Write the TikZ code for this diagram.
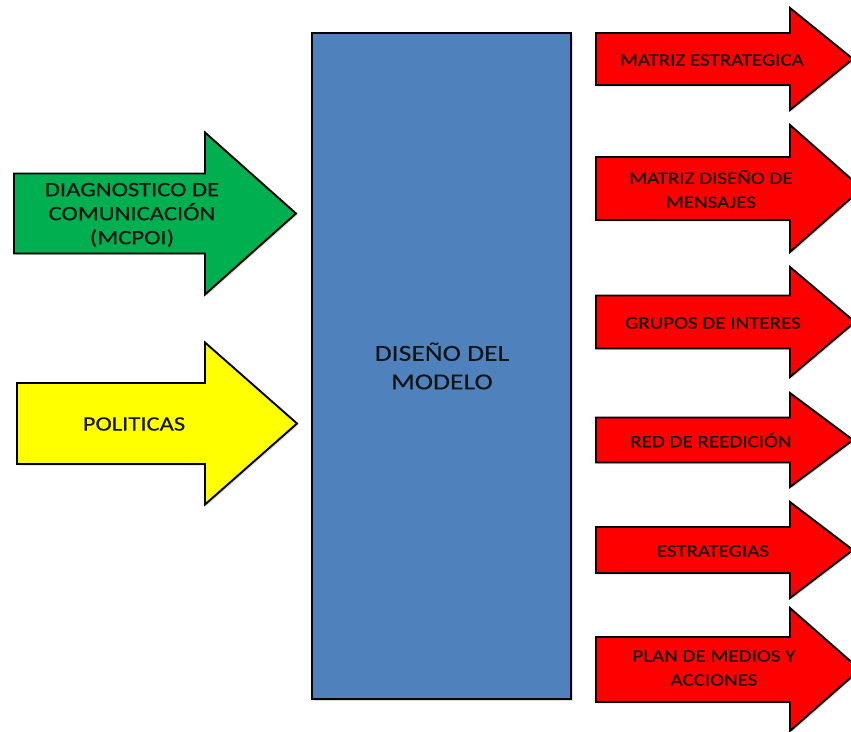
\documentclass[tikz,border=0pt]{standalone}
\usepackage{fontspec}
\setmainfont{Carlito}[FakeStretch=1.2, FakeBold=0.25]
\usetikzlibrary{shadows}
\definecolor{boxblue}{HTML}{4F81BD}
\definecolor{arrgreen}{HTML}{00B050}
\definecolor{arryellow}{HTML}{FFFF00}
\definecolor{arrred}{HTML}{FF0000}
\definecolor{txt}{HTML}{141414}
\tikzset{
  blockshape/.style={draw=black, line width=1.9pt, line join=miter,
    drop shadow={shadow xshift=1.5pt, shadow yshift=-1.5pt, opacity=0.25}},
  redlabel/.style={align=center, font=\fontsize{17.5}{24}\selectfont, text=txt, inner sep=0pt},
  leftlabel/.style={align=center, font=\fontsize{20.5}{24}\selectfont, text=txt, inner sep=0pt},
  mainlabel/.style={align=center, font=\fontsize{23}{28.5}\selectfont, text=txt, inner sep=0pt}
}
% #1 style, #2 left x, #3 head base x, #4 centre y, #5 shaft half height, #6 head half height, #7 tip x
\newcommand{\blockarrow}[7]{%
  \path[blockshape,#1] ({#2},{#4-#5}) -- ({#3},{#4-#5}) -- ({#3},{#4-#6}) -- ({#7},{#4})
    -- ({#3},{#4+#6}) -- ({#3},{#4+#5}) -- ({#2},{#4+#5}) -- cycle;}
\begin{document}
\begin{tikzpicture}[x=1pt, y=-1pt]
\useasboundingbox[fill=white] (0,0) rectangle (851,731);
% left arrows
\blockarrow{fill=arrgreen}{14}{205}{213.5}{40}{81}{296}
\blockarrow{fill=arryellow}{17}{205}{423.5}{40.5}{81}{297}
% central box
\path[blockshape, fill=boxblue] (312,33) rectangle (571,699);
\node[mainlabel] (model) at (442,366) {DISEÑO DEL\\MODELO};
\node[leftlabel] (diag) at (132,215) {DIAGNOSTICO DE\\COMUNICACIÓN\\(MCPOI)};
\node[leftlabel] (pol) at (134,424) {POLITICAS};
% right arrows
\blockarrow{fill=arrred}{596}{790}{59}{26}{51}{853}
\blockarrow{fill=arrred}{596}{790}{188.5}{31.5}{63.5}{862}
\blockarrow{fill=arrred}{596}{790}{322}{26.5}{55}{855}
\blockarrow{fill=arrred}{596}{790}{440}{22.5}{47}{853}
\blockarrow{fill=arrred}{596}{790}{550}{23}{48}{853}
\blockarrow{fill=arrred}{596}{790}{669.5}{32.5}{61.5}{860}
\node[redlabel] (r1) at (712,60) {MATRIZ ESTRATEGICA};
\node[redlabel] (r2) at (711,189) {MATRIZ DISEÑO DE\\MENSAJES};
\node[redlabel] (r3) at (713,323) {GRUPOS DE INTERES};
\node[redlabel] (r4) at (711,440) {RED DE REEDICIÓN};
\node[redlabel] (r5) at (713,551) {ESTRATEGIAS};
\node[redlabel] (r6) at (714,668) {PLAN DE MEDIOS Y\\ACCIONES};
\end{tikzpicture}
\end{document}
